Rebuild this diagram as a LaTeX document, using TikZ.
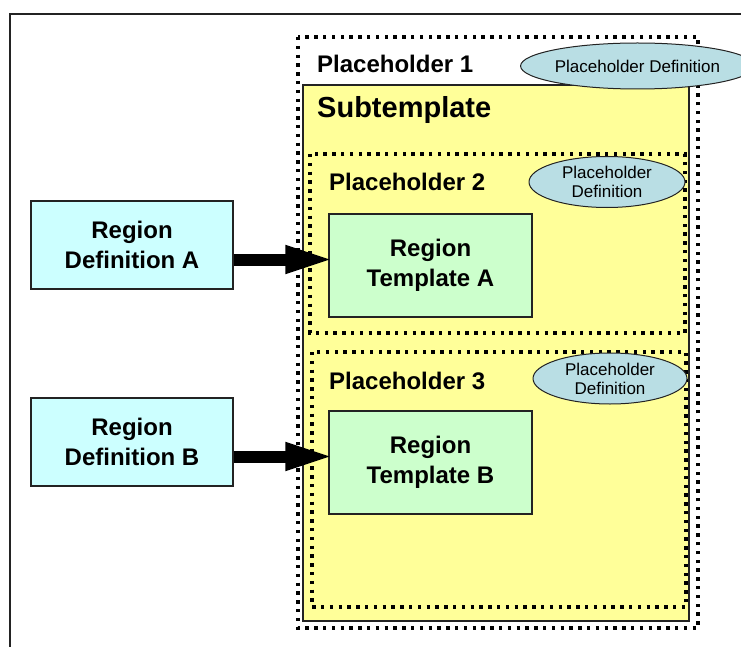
\documentclass[tikz,border=0pt]{standalone}
\usepackage{fontspec}
\setmainfont{Liberation Sans}
\usetikzlibrary{shapes.geometric,arrows.meta}
\definecolor{defcyan}{RGB}{204,255,255}
\definecolor{tmplgreen}{RGB}{204,255,204}
\definecolor{subyellow}{RGB}{255,255,153}
\definecolor{ellblue}{RGB}{185,222,228}
\definecolor{edgegrey}{RGB}{35,35,35}
\begin{document}
\begin{tikzpicture}[x=1pt,y=-1pt,
  frame/.style={draw=edgegrey, line width=1.5pt},
  dotbox/.style={draw=black, line width=3.4pt, dash pattern=on 3.4pt off 5.4pt},
  subbox/.style={draw=edgegrey, line width=1.5pt, fill=subyellow},
  defbox/.style={draw=edgegrey, line width=1.3pt, fill=defcyan, minimum width=202pt, minimum height=88pt, inner sep=0pt, align=center, font=\fontsize{24}{29.5}\selectfont\bfseries},
  tmplbox/.style={draw=edgegrey, line width=1.3pt, fill=tmplgreen, minimum width=203pt, minimum height=103pt, inner sep=0pt, align=center, font=\fontsize{24}{30}\selectfont\bfseries},
  ell/.style={ellipse, draw=edgegrey, line width=1pt, fill=ellblue, inner sep=0pt, align=center, font=\fontsize{17}{19}\selectfont},
  title/.style={anchor=base west, inner sep=0pt, font=\fontsize{24}{28}\selectfont\bfseries},
  bigarrow/.style={draw=black, line width=12pt, -{Triangle[length=50pt,width=25pt]}, shorten >=-7pt}
]
\useasboundingbox (0,0) rectangle (741,647);
% outer frame
\draw[frame] (10,660) -- (10,14) -- (760,14);
% placeholder 1 and subtemplate
\draw[dotbox] (298,37) rectangle (698,628);
\draw[subbox] (303,85) rectangle (689,621);
\node[title] (ph1) at (317,73) {Placeholder 1};
\node[ell, minimum width=205pt, minimum height=46pt] (e1) at (637.5,66) {Placeholder Definition};
\node[title, font=\fontsize{29}{32}\selectfont\bfseries] (sub) at (317,118) {Subtemplate};
% placeholder 2
\draw[dotbox] (310,154) rectangle (685,333);
\node[title] (ph2) at (329,190) {Placeholder 2};
\node[ell, minimum width=156pt, minimum height=51pt] (e2) at (607,182) {Placeholder\\Definition};
% placeholder 3
\draw[dotbox] (312,352) rectangle (686,607);
\node[title] (ph3) at (329,389) {Placeholder 3};
\node[ell, minimum width=154pt, minimum height=51pt] (e3) at (610,378.5) {Placeholder\\Definition};
% templates
\node[tmplbox] (tmplA) at (430.5,265.5) {Region\\Template A};
\node[tmplbox] (tmplB) at (430.5,462.5) {Region\\Template B};
% definitions
\node[defbox] (defA) at (132,245) {Region\\Definition A};
\node[defbox] (defB) at (132,442) {Region\\Definition B};
% arrows
\coordinate (aA) at ([yshift=-14.5pt]defA.east);
\coordinate (aB) at ([yshift=-14.5pt]defB.east);
\draw[bigarrow] (aA) -- (aA -| tmplA.west);
\draw[bigarrow] (aB) -- (aB -| tmplB.west);
\end{tikzpicture}
\end{document}
